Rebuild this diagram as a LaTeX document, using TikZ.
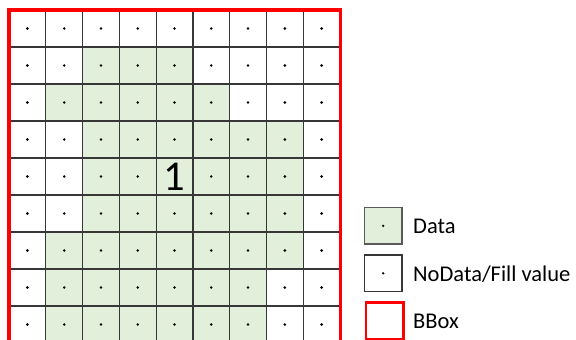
\documentclass[tikz,border=0pt]{standalone}
\usepackage{fontspec}
\setmainfont{Carlito}
\definecolor{datagreen}{RGB}{226,239,218}
\definecolor{gridgray}{RGB}{55,55,55}
\definecolor{legendgray}{RGB}{90,90,90}
\definecolor{bboxred}{RGB}{255,0,0}
\tikzset{
  cell/.style={draw=gridgray, line width=1.2pt, minimum width=36.78pt, minimum height=37pt, inner sep=0pt, outer sep=0pt},
  centerdot/.style={fill=black},
  legbox/.style={minimum width=37.5pt, minimum height=36.5pt, inner sep=0pt, outer sep=0pt},
  legtext/.style={anchor=west, inner sep=0pt, font=\fontsize{22.5pt}{26pt}\selectfont},
  bigone/.style={font=\fontsize{42.5pt}{48pt}\selectfont, inner sep=0pt}
}
\begin{document}
\begin{tikzpicture}[x=1pt,y=-1pt]
\useasboundingbox (0,0) rectangle (576,340);
\clip (0,0) rectangle (576,340);
\foreach \r/\a/\b in {0/9/-1, 1/2/4, 2/1/5, 3/2/7, 4/2/7, 5/2/7, 6/1/7, 7/1/6, 8/1/6} {
  \foreach \c in {0,...,8} {
    \pgfmathtruncatemacro{\isdata}{and(\c>=\a,\c<=\b)}
    \ifnum\isdata=1
      \node[cell, fill=datagreen] (c-\r-\c) at ({9+36.78*(\c+0.5)},{10+37*(\r+0.5)}) {};
    \else
      \node[cell, fill=white] (c-\r-\c) at ({9+36.78*(\c+0.5)},{10+37*(\r+0.5)}) {};
    \fi
    \fill[centerdot] (c-\r-\c.center) circle (1.4pt);
  }
}
\node[bigone, fill=datagreen, inner sep=1pt] (one) at (c-4-4.center) {1};
\node[draw=bboxred, line width=3.5pt, minimum width=331.5pt, minimum height=333pt, inner sep=0pt] (bbox) at (174.75,176.5) {};
% legend
\node[legbox, draw=legendgray, line width=1.4pt, fill=datagreen] (ldata) at (383.2,225.8) {};
\fill[centerdot] (ldata.center) circle (1.3pt);
\node[legtext] (tdata) at (413,226.5) {Data};
\node[legbox, draw=gridgray, line width=1.2pt, fill=white] (lnodata) at (383.2,273.3) {};
\fill[centerdot] (lnodata.center) circle (1.3pt);
\node[legtext] (tnodata) at (413,274) {NoData/Fill value};
\node[legbox, draw=bboxred, line width=2.5pt] (lbbox) at (384.7,320.5) {};
\node[legtext] (tbbox) at (413,321) {BBox};
\end{tikzpicture}
\end{document}
